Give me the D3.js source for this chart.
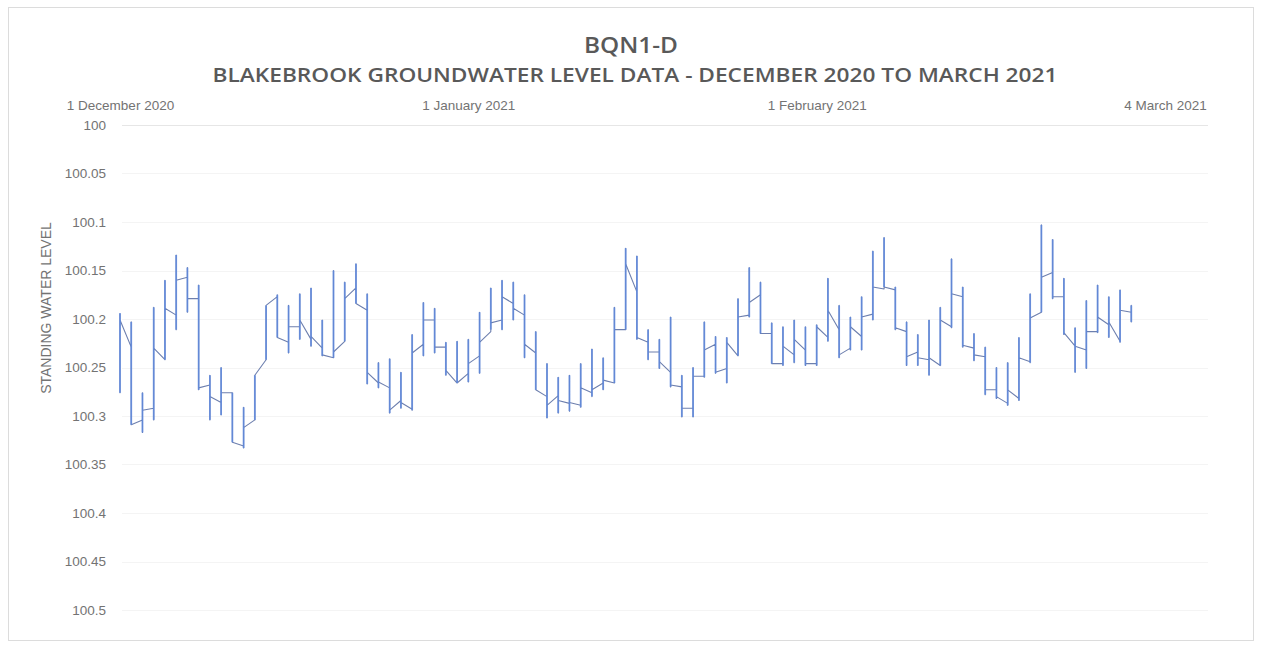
<!DOCTYPE html>
<html>
<head>
<meta charset="utf-8">
<script src="https://cdn.jsdelivr.net/npm/d3@7"></script>
<style>
  html, body { margin: 0; padding: 0; background: #ffffff; }
  svg { display: block; }
</style>
</head>
<body>
<svg id="chart" width="1262" height="646"></svg>
<script>
// ---------- DATA ----------
const chartTitle = "BQN1-D";
const chartSubtitle = "BLAKEBROOK GROUNDWATER LEVEL DATA - DECEMBER 2020 TO MARCH 2021";
const yAxisTitle = "STANDING WATER LEVEL";

const firstDay = "2020-12-01";
const xTickDates = ["2020-12-01", "2021-01-01", "2021-02-01", "2021-03-04"];
const xTickLabels = ["1 December 2020", "1 January 2021", "1 February 2021", "4 March 2021"];
const yTickValues = [100, 100.05, 100.1, 100.15, 100.2, 100.25, 100.3, 100.35, 100.4, 100.45, 100.5];
const yTickLabels = ["100", "100.05", "100.1", "100.15", "100.2", "100.25", "100.3", "100.35", "100.4", "100.45", "100.5"];

// daily spike extremes (top / bottom of each daily spike)
const spikeHigh = [
  100.194, 100.203, 100.276, 100.188, 100.160, 100.134, 100.147, 100.165, 100.258, 100.250,
  100.276, 100.291, 100.258, 100.186, 100.175, 100.186, 100.174, 100.168, 100.201, 100.150,
  100.162, 100.143, 100.174, 100.245, 100.241, 100.255, 100.216, 100.183, 100.189, 100.224,
  100.223, 100.221, 100.193, 100.168, 100.160, 100.162, 100.175, 100.213, 100.246, 100.260,
  100.258, 100.246, 100.231, 100.240, 100.188, 100.127, 100.135, 100.211, 100.221, 100.198,
  100.258, 100.250, 100.203, 100.218, 100.219, 100.179, 100.147, 100.162, 100.204, 100.208,
  100.201, 100.208, 100.206, 100.158, 100.186, 100.198, 100.177, 100.130, 100.116, 100.167,
  100.203, 100.216, 100.201, 100.188, 100.138, 100.167, 100.215, 100.229, 100.250, 100.245,
  100.219, 100.174, 100.103, 100.118, 100.158, 100.209, 100.181, 100.165, 100.177, 100.170,
  100.186
];
const spikeLow = [
  100.276, 100.309, 100.317, 100.304, 100.242, 100.211, 100.193, 100.273, 100.304, 100.299,
  100.327, 100.333, 100.304, 100.242, 100.219, 100.235, 100.221, 100.228, 100.238, 100.240,
  100.223, 100.184, 100.267, 100.271, 100.297, 100.292, 100.294, 100.238, 100.235, 100.258,
  100.266, 100.265, 100.256, 100.211, 100.211, 100.201, 100.240, 100.273, 100.302, 100.297,
  100.295, 100.291, 100.280, 100.273, 100.266, 100.211, 100.221, 100.242, 100.251, 100.270,
  100.301, 100.301, 100.260, 100.256, 100.266, 100.238, 100.198, 100.215, 100.246, 100.248,
  100.245, 100.248, 100.248, 100.223, 100.240, 100.232, 100.232, 100.201, 100.167, 100.211,
  100.248, 100.248, 100.258, 100.248, 100.209, 100.229, 100.243, 100.278, 100.282, 100.289,
  100.284, 100.245, 100.193, 100.179, 100.216, 100.255, 100.251, 100.214, 100.219, 100.224,
  100.203
];
// level just after each daily spike, and level at the end of that day
const levelOpen = [
  100.201, 100.309, 100.294, 100.230, 100.189, 100.160, 100.179, 100.271, 100.280, 100.276,
  100.327, 100.312, 100.258, 100.186, 100.219, 100.208, 100.201, 100.218, 100.237, 100.234,
  100.179, 100.184, 100.255, 100.265, 100.294, 100.286, 100.235, 100.201, 100.229, 100.253,
  100.266, 100.246, 100.224, 100.204, 100.177, 100.189, 100.226, 100.273, 100.289, 100.284,
  100.286, 100.271, 100.273, 100.263, 100.211, 100.143, 100.219, 100.234, 100.244, 100.268,
  100.292, 100.259, 100.232, 100.255, 100.224, 100.198, 100.183, 100.215, 100.246, 100.228,
  100.221, 100.246, 100.208, 100.191, 100.237, 100.208, 100.198, 100.167, 100.167, 100.209,
  100.239, 100.240, 100.240, 100.201, 100.174, 100.227, 100.237, 100.273, 100.280, 100.273,
  100.240, 100.199, 100.157, 100.177, 100.214, 100.228, 100.213, 100.198, 100.203, 100.191,
  100.195
];
const levelClose = [
  100.229, 100.304, 100.292, 100.242, 100.196, 100.157, 100.179, 100.268, 100.286, 100.276,
  100.331, 100.304, 100.242, 100.177, 100.224, 100.208, 100.221, 100.230, 100.240, 100.223,
  100.168, 100.191, 100.266, 100.271, 100.284, 100.293, 100.226, 100.201, 100.229, 100.266,
  100.256, 100.238, 100.213, 100.201, 100.184, 100.196, 100.235, 100.280, 100.279, 100.287,
  100.289, 100.276, 100.266, 100.266, 100.211, 100.172, 100.224, 100.234, 100.255, 100.270,
  100.292, 100.259, 100.226, 100.251, 100.238, 100.196, 100.175, 100.215, 100.246, 100.237,
  100.232, 100.246, 100.219, 100.211, 100.230, 100.218, 100.195, 100.169, 100.170, 100.213,
  100.234, 100.242, 100.248, 100.208, 100.177, 100.230, 100.239, 100.273, 100.287, 100.282,
  100.244, 100.193, 100.152, 100.177, 100.228, 100.232, 100.213, 100.206, 100.223, 100.193
];

// ---------- CHART ----------
const svg = d3.select("#chart");
const W = 1262, H = 646;
const parse = d3.timeParse("%Y-%m-%d");
const day0 = parse(firstDay);
const dayDates = spikeHigh.map((_, i) => d3.timeDay.offset(day0, i));

const x = d3.scaleTime()
  .domain([parse(xTickDates[0]), parse(xTickDates[xTickDates.length - 1])])
  .range([120, 1165]);
const y = d3.scaleLinear().domain([100, 100.5]).range([125, 610]);

const textColor = "#737373";
const baseFont = "'Liberation Sans', Arial, sans-serif";
const titleFont = "'Open Sans', 'Liberation Sans', sans-serif";

// outer frame
svg.append("rect")
  .attr("x", 8.5).attr("y", 7.5).attr("width", W - 17).attr("height", H - 13)
  .attr("fill", "#fff").attr("stroke", "#dcdcdc").attr("stroke-width", 1);

// gridlines
svg.append("g").selectAll("line").data(yTickValues).join("line")
  .attr("x1", 122).attr("x2", 1208)
  .attr("y1", d => Math.round(y(d)) + 0.5).attr("y2", d => Math.round(y(d)) + 0.5)
  .attr("stroke", (d, i) => i === 0 ? "#e6e6e6" : "#f4f4f4").attr("stroke-width", 1);

// titles
svg.append("text")
  .attr("x", 631).attr("y", 53).attr("text-anchor", "middle")
  .attr("font-family", titleFont).attr("font-weight", 600)
  .attr("font-size", 22).attr("fill", "#595959")
  .attr("textLength", 94).attr("lengthAdjust", "spacingAndGlyphs")
  .text(chartTitle);
svg.append("text")
  .attr("x", 635).attr("y", 82).attr("text-anchor", "middle")
  .attr("font-family", titleFont).attr("font-weight", 600)
  .attr("font-size", 19).attr("fill", "#595959")
  .attr("textLength", 845).attr("lengthAdjust", "spacingAndGlyphs")
  .text(chartSubtitle);

// x axis (top)
const xAxis = d3.axisTop(x)
  .tickValues(xTickDates.map(parse))
  .tickFormat((d, i) => xTickLabels[i])
  .tickSize(0).tickPadding(3);
const gx = svg.append("g").attr("transform", "translate(0,113)").call(xAxis);
gx.select(".domain").remove();
gx.selectAll("text").attr("font-family", baseFont).attr("font-size", 13.5).attr("fill", textColor);

// y axis
const yAxis = d3.axisLeft(y)
  .tickValues(yTickValues)
  .tickFormat((d, i) => yTickLabels[i])
  .tickSize(0).tickPadding(3);
const gy = svg.append("g").attr("transform", "translate(109,0)").call(yAxis);
gy.select(".domain").remove();
gy.selectAll("text").attr("font-family", baseFont).attr("font-size", 13.5).attr("fill", textColor);

// y axis title
svg.append("text")
  .attr("transform", "translate(51,308) rotate(-90)")
  .attr("text-anchor", "middle")
  .attr("font-family", baseFont).attr("font-size", 14).attr("fill", textColor)
  .text(yAxisTitle);

// build line points
const pts = [];
dayDates.forEach((t, i) => {
  pts.push([t, spikeHigh[i]]);
  pts.push([t, spikeLow[i]]);
  pts.push([t, levelOpen[i]]);
  if (i < levelClose.length && i + 1 < dayDates.length) {
    pts.push([dayDates[i + 1], levelClose[i]]);
  }
});

const line = d3.line().x(d => x(d[0])).y(d => y(d[1]));

svg.append("path")
  .datum(pts)
  .attr("d", line)
  .attr("fill", "none")
  .attr("stroke", "#6d7fae")
  .attr("stroke-width", 1.1)
  .attr("stroke-linejoin", "round");

// emphasised daily spikes
svg.append("g").selectAll("line").data(dayDates).join("line")
  .attr("x1", d => x(d)).attr("x2", d => x(d))
  .attr("y1", (d, i) => y(spikeHigh[i]))
  .attr("y2", (d, i) => y(spikeLow[i]))
  .attr("stroke", "#5f88dc")
  .attr("stroke-width", 1.8)
  .attr("stroke-opacity", 0.85);
</script>
</body>
</html>
